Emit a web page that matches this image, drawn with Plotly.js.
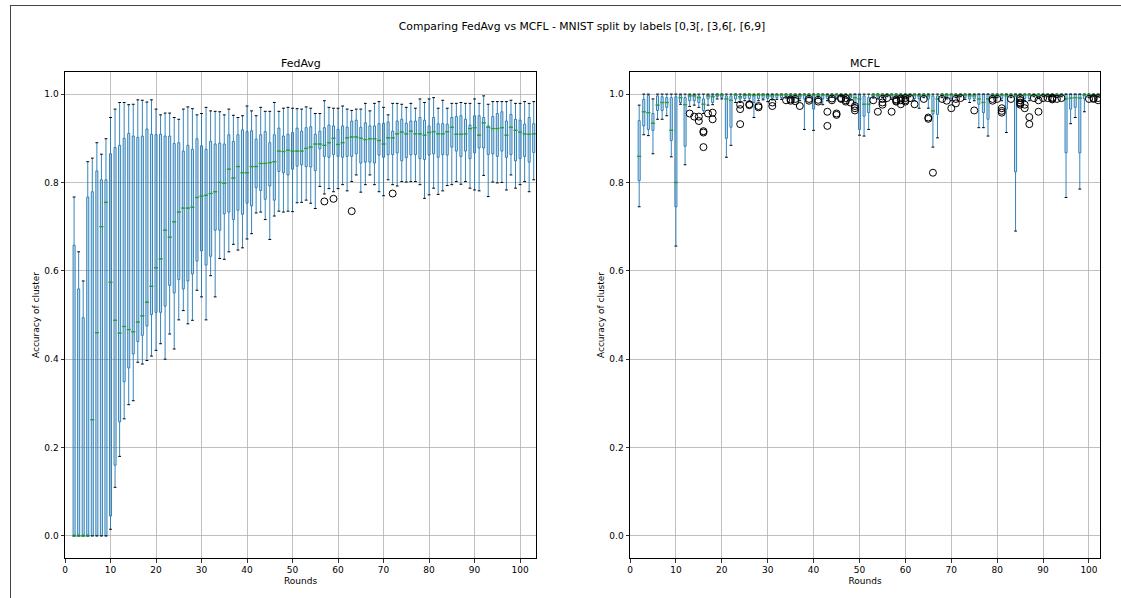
<!DOCTYPE html>
<html>
<head>
<meta charset="utf-8">
<script src="https://cdn.plot.ly/plotly-3.0.1.min.js"></script>
<style>
  html, body { margin: 0; padding: 0; background: #fff; }
  #chart { position: absolute; left: 0; top: 0; width: 1121px; height: 598px; }
  #frame { position: absolute; left: 10px; top: 5px; width: 1111px; height: 593px;
           border-top: 1px solid #444; border-left: 1px solid #444; pointer-events: none; }
</style>
</head>
<body>
<div id="chart"></div>
<div id="frame"></div>
<script>
// ---------- FedAvg (rounds 2..103) ----------
const fedRounds = [2,3,4,5,6,7,8,9,10,11,12,13,14,15,16,17,18,19,20,21,22,23,24,25,26,27,28,29,30,31,32,33,34,35,36,37,38,39,40,41,42,43,44,45,46,47,48,49,50,51,52,53,54,55,56,57,58,59,60,61,62,63,64,65,66,67,68,69,70,71,72,73,74,75,76,77,78,79,80,81,82,83,84,85,86,87,88,89,90,91,92,93,94,95,96,97,98,99,100,101,102,103];
const fedLo = [0,0,0,0,0,0,0,0,
  .015,.11,.18,.265,.297,.306,.393,.389,.397,.407,
  .42,.435,.40,.457,.423,.489,.51,.48,.488,.556,
  .541,.489,.589,.541,.628,.626,.643,.66,.647,.652,
  .672,.684,.731,.733,.716,.671,.724,.735,.733,.735,
  .734,.754,.755,.76,.753,.741,.791,.774,.786,.779,
  .786,.795,.781,.802,.817,.778,.795,.817,.795,.779,
  .77,.806,.795,.792,.802,.801,.802,.802,.795,.764,
  .772,.787,.773,.781,.793,.795,.802,.796,.802,.787,
  .783,.781,.816,.768,.801,.799,.80,.783,.817,.787,
  .795,.802,.779,.806];
const fedQ1 = [0,0,0,0,0,0,0,0,
  .045,.16,.258,.349,.38,.412,.44,.454,.475,.501,
  .506,.506,.52,.567,.55,.58,.559,.577,.593,.622,
  .645,.613,.633,.692,.692,.729,.733,.716,.737,.728,
  .753,.747,.788,.782,.762,.792,.76,.825,.822,.817,
  .83,.837,.84,.836,.835,.827,.876,.859,.857,.863,
  .859,.857,.859,.859,.865,.844,.846,.846,.844,.862,
  .857,.863,.863,.867,.849,.856,.863,.863,.854,.852,
  .862,.865,.857,.863,.862,.88,.871,.859,.871,.854,
  .867,.878,.878,.863,.865,.859,.871,.857,.863,.849,
  .854,.859,.846,.868];
const fedMed = [0,0,0,0,.263,.46,.70,.755,
  .574,.488,.459,.474,.467,.462,.484,.498,.529,.565,
  .607,.627,.692,.676,.711,.733,.742,.742,.744,.766,
  .769,.771,.775,.779,.80,.798,.83,.81,.836,.822,
  .822,.836,.836,.843,.843,.845,.847,.871,.87,.873,
  .871,.871,.871,.877,.88,.887,.887,.884,.89,.90,
  .886,.89,.901,.903,.903,.90,.897,.899,.899,.895,
  .887,.901,.901,.91,.914,.91,.916,.91,.91,.907,
  .913,.915,.91,.91,.915,.925,.909,.909,.91,.922,
  .924,.907,.935,.925,.922,.922,.924,.907,.925,.918,
  .914,.91,.909,.91];
const fedQ3 = [.658,.559,.494,.767,.779,.826,.806,.806,
  .865,.879,.884,.90,.911,.905,.902,.905,.921,.909,
  .908,.909,.905,.905,.888,.89,.871,.884,.875,.899,
  .883,.875,.893,.887,.889,.887,.908,.893,.908,.919,
  .915,.917,.898,.908,.915,.89,.908,.923,.905,.909,
  .913,.923,.916,.924,.926,.909,.916,.924,.93,.928,
  .92,.928,.925,.939,.941,.925,.935,.928,.928,.933,
  .934,.937,.916,.939,.943,.934,.939,.939,.947,.941,
  .928,.947,.933,.933,.932,.947,.949,.951,.943,.93,
  .951,.951,.947,.928,.949,.956,.96,.939,.954,.943,
  .941,.932,.947,.933];
const fedHi = [.767,.643,.577,.847,.855,.89,.864,.899,
  .947,.966,.981,.981,.976,.977,.987,.986,.982,.987,
  .966,.953,.957,.957,.947,.943,.966,.971,.967,.953,
  .956,.97,.962,.961,.96,.953,.966,.952,.947,.951,
  .973,.962,.951,.97,.961,.961,.981,.961,.968,.97,
  .968,.967,.966,.971,.968,.956,.956,.985,.97,.968,
  .968,.973,.966,.963,.966,.966,.979,.962,.979,.983,
  .97,.953,.979,.979,.977,.97,.979,.968,.989,.981,
  .989,.992,.968,.986,.968,.979,.979,.981,.979,.979,
  .989,.979,.996,.977,.983,.983,.983,.983,.986,.979,
  .979,.983,.979,.983];
const fedOutX = [57, 59, 63, 72];
const fedOutY = [.757, .763, .735, .775];

// ---------- MCFL (rounds 2..102) ----------
const mcRounds = [2,3,4,5,6,7,8,9,10,11,12,13,14,15,16,17,18,19,20,21,22,23,24,25,26,27,28,29,30,31,32,33,34,35,36,37,38,39,40,41,42,43,44,45,46,47,48,49,50,51,52,53,54,55,56,57,58,59,60,61,62,63,64,65,66,67,68,69,70,71,72,73,74,75,76,77,78,79,80,81,82,83,84,85,86,87,88,89,90,91,92,93,94,95,96,97,98,99,100,101,102];
const mcLo = [.745,.908,.906,.865,.943,.943,.951,.858,
  .656,.977,.84,.972,.975,.97,.956,.975,.976,.989,
  .989,.857,.884,.981,.981,.985,.984,.947,.985,.987,
  .983,.987,.988,.988,.991,.991,.992,.985,.92,.992,
  .918,.991,.976,.985,.993,.989,.994,.994,.986,.977,
  .907,.905,.92,.991,.989,.992,.994,.988,.992,.993,
  .994,.994,.985,.968,.992,.968,.88,.901,.992,.989,
  .985,.992,.994,.988,.981,.985,.924,.924,.905,.992,
  .992,.985,.913,.992,.69,.994,.985,.985,.994,.99,
  .994,.994,.994,.992,.994,.766,.933,.947,.785,.96,
  .992,.994,.994];
const mcQ1 = [.804,.928,.92,.918,.963,.963,.97,.895,
  .745,.981,.882,.985,.985,.981,.963,.989,.981,.994,
  .992,.90,.925,.989,.989,.99,.99,.981,.99,.99,
  .99,.991,.992,.992,.994,.994,.994,.99,.989,.994,
  .966,.994,.989,.99,.995,.993,.996,.996,.991,.981,
  .92,.95,.958,.994,.993,.995,.996,.992,.995,.995,
  .996,.996,.99,.989,.995,.989,.955,.954,.995,.993,
  .99,.995,.996,.992,.989,.989,.977,.958,.943,.995,
  .995,.99,.966,.995,.824,.996,.99,.99,.996,.993,
  .996,.996,.996,.995,.996,.867,.966,.97,.867,.989,
  .995,.996,.996];
const mcMed = [.859,.96,.958,.934,.975,.981,.981,.918,
  .80,.992,.976,.996,.996,.992,.977,.996,.994,.998,
  .998,.989,.986,.998,.994,.997,.998,.997,.998,.998,
  .996,.996,.998,.998,.998,.998,.998,.996,.998,.998,
  .998,.998,.998,.996,.998,.998,.998,.998,.996,.992,
  .989,.977,.977,.998,.998,.998,.998,.998,.998,.998,
  .998,.998,.998,.996,.998,.996,.962,.989,.998,.998,
  .998,.998,.998,.998,.996,.996,.989,.981,.989,.998,
  .998,.998,.996,.998,.996,.998,.998,.998,.998,.998,
  .998,.998,.998,.998,.998,.989,.991,.992,.991,.998,
  .998,.998,.998];
const mcQ3 = [.94,.988,.997,.956,.996,.994,.992,.992,
  .994,.998,.992,.998,.999,.996,.989,.998,.997,1,
  1,.996,.996,1,.996,1,1,.998,1,1,
  1,1,1,1,1,1,1,1,1,1,
  1,1,1,1,1,1,1,1,.998,1,
  .998,.996,.992,1,1,1,1,1,1,1,
  1,1,1,1,1,1,.996,.996,1,1,
  1,1,1,1,1,1,1,1,1,1,
  1,1,1,1,1,1,1,1,1,1,
  1,1,1,1,1,1,1,1,1,1,
  1,1,1];
const mcHi = [.975,1,1,.989,1,1,1,1,
  1,1,1,1,1,1,1,1,1,1,
  1,1,1,1,1,1,1,1,1,1,
  1,1,1,1,1,1,1,1,1,1,
  1,1,1,1,1,1,1,1,1,1,
  1,1,1,1,1,1,1,1,1,1,
  1,1,1,1,1,1,1,1,1,1,
  1,1,1,1,1,1,1,1,1,1,
  1,1,1,1,1,1,1,1,1,1,
  1,1,1,1,1,1,1,1,1,1,
  1,1,1];
const mcOutX = [13,14,15,15,16,16,16,17,18,18,24,24,24,26,26,28,28,31,31,34,35,35,36,36,37,39,39,41,41,43,43,44,44,45,45,46,46,47,47,47,48,49,49,49,
  53,54,55,55,55,56,57,58,58,58,59,59,59,60,60,60,61,62,64,65,65,66,68,69,70,71,71,72,75,79,79,80,81,81,81,83,85,85,85,85,85,86,86,87,87,88,89,89,90,91,92,92,92,93,94,100,101,101,102,102];
const mcOutY = [.956,.949,.949,.939,.916,.913,.88,.956,.958,.943,.976,.966,.932,.977,.975,.973,.97,.981,.973,.986,.988,.985,.989,.984,.973,.989,.985,.987,.983,.96,.928,.99,.986,.956,.953,.991,.989,.991,.986,.983,.981,.973,.968,.963,
  .986,.96,.989,.981,.976,.991,.96,.988,.985,.983,.99,.986,.977,.991,.986,.983,.991,.977,.989,.947,.944,.822,.989,.985,.968,.989,.979,.991,.963,.989,.985,.989,.968,.962,.958,.989,.991,.986,.981,.979,.976,.976,.968,.948,.932,.991,.986,.96,.991,.991,.992,.99,.988,.989,.991,.989,.991,.989,.991,.986];

const BLUE = '#1f77b4', GREEN = '#2ca02c';

function panel(x, lo, q1, med, q3, hi, outX, outY, xa, ya) {
  return [
    { type: 'box', x: x, q1: q1, median: med, q3: q3, lowerfence: lo, upperfence: hi,
      boxpoints: false, width: 0.45, whiskerwidth: 0,
      line: { color: BLUE, width: 0.9 }, fillcolor: 'rgba(31,119,180,0.22)',
      xaxis: xa, yaxis: ya, hoverinfo: 'skip', showlegend: false },
    { type: 'scatter', mode: 'markers', x: x.concat(x), y: lo.concat(hi),
      marker: { symbol: 'line-ew', size: 2, line: { color: '#000', width: 1 } },
      xaxis: xa, yaxis: ya, hoverinfo: 'skip', showlegend: false },
    { type: 'scatter', mode: 'markers', x: x, y: med,
      marker: { symbol: 'line-ew', size: 3, line: { color: GREEN, width: 1.3 } },
      xaxis: xa, yaxis: ya, hoverinfo: 'skip', showlegend: false },
    { type: 'scatter', mode: 'markers', x: outX, y: outY,
      marker: { symbol: 'circle-open', size: 7, color: '#000', line: { color: '#000', width: 1 } },
      xaxis: xa, yaxis: ya, hoverinfo: 'skip', showlegend: false }
  ];
}

const data = panel(fedRounds, fedLo, fedQ1, fedMed, fedQ3, fedHi, fedOutX, fedOutY, 'x', 'y')
  .concat(panel(mcRounds, mcLo, mcQ1, mcMed, mcQ3, mcHi, mcOutX, mcOutY, 'x2', 'y2'));

const FONT = 'DejaVu Sans, sans-serif';
const xTicks = [0,10,20,30,40,50,60,70,80,90,100];
const yTicks = [0,0.2,0.4,0.6,0.8,1.0];

function xAxis(domain, range, anchor) {
  return { domain: domain, range: range, anchor: anchor, tickvals: xTicks,
    showgrid: true, gridcolor: '#b0b0b0', gridwidth: 0.8, zeroline: false,
    showline: true, mirror: true, linecolor: '#000', linewidth: 1,
    ticks: 'outside', ticklen: 3.5, tickcolor: '#000', tickwidth: 0.8,
    tickfont: { family: FONT, size: 9, color: '#000' },
    title: { text: 'Rounds', font: { family: FONT, size: 9, color: '#000' }, standoff: 3 } };
}
function yAxis(domain, anchor) {
  return { domain: domain, range: [-0.05, 1.05], anchor: anchor, tickvals: yTicks, tickformat: '.1f',
    showgrid: true, gridcolor: '#b0b0b0', gridwidth: 0.8, zeroline: false,
    showline: true, mirror: true, linecolor: '#000', linewidth: 1,
    ticks: 'outside', ticklen: 3.5, tickcolor: '#000', tickwidth: 0.8,
    tickfont: { family: FONT, size: 9, color: '#000' },
    title: { text: 'Accuracy of cluster', font: { family: FONT, size: 9, color: '#000' }, standoff: 3 } };
}

const yDom = [1 - 558/598, 1 - 72/598];
const layout = {
  width: 1121, height: 598,
  margin: { l: 0, r: 0, t: 0, b: 0 },
  paper_bgcolor: '#fff', plot_bgcolor: '#fff',
  font: { family: FONT, size: 9, color: '#000' },
  showlegend: false,
  title: { text: 'Comparing FedAvg vs MCFL - MNIST split by labels [0,3[, [3,6[, [6,9]',
           font: { family: FONT, size: 10.8, color: '#000' }, x: 582/1121, xanchor: 'center', y: 1 - 26/598, yanchor: 'middle' },
  xaxis: xAxis([65/1121, 536/1121], [0, 103.5], 'y'),
  yaxis: yAxis(yDom, 'x'),
  xaxis2: xAxis([630/1121, 1100/1121], [0, 102.4], 'y2'),
  yaxis2: yAxis(yDom, 'x2'),
  annotations: [
    { text: 'FedAvg', x: (65+536)/2/1121, y: 1 - 63/598, xref: 'paper', yref: 'paper',
      showarrow: false, xanchor: 'center', yanchor: 'middle', font: { family: FONT, size: 11, color: '#000' } },
    { text: 'MCFL', x: (630+1100)/2/1121, y: 1 - 63/598, xref: 'paper', yref: 'paper',
      showarrow: false, xanchor: 'center', yanchor: 'middle', font: { family: FONT, size: 11, color: '#000' } }
  ]
};

Plotly.newPlot('chart', data, layout, { displayModeBar: false, staticPlot: true });
</script>
</body>
</html>
